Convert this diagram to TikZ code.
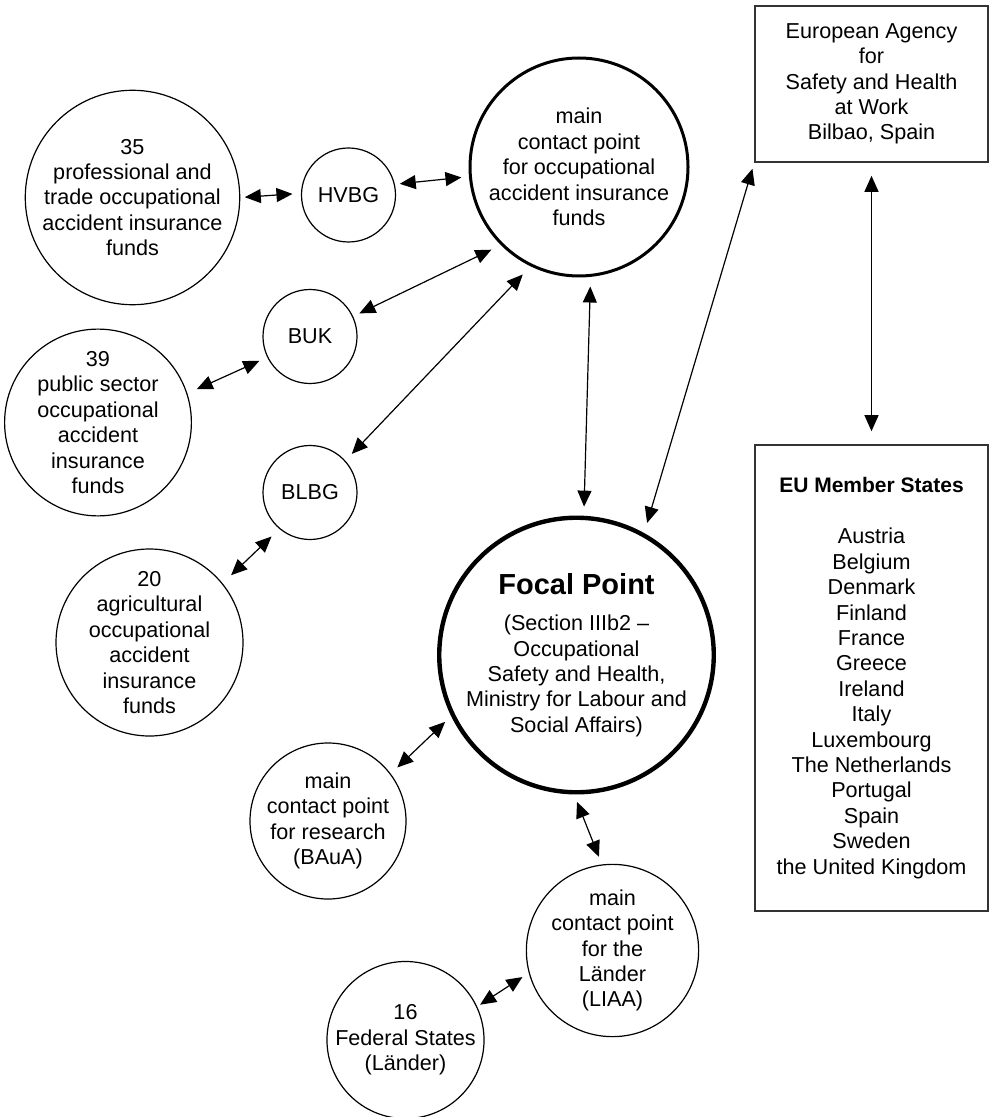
\documentclass[tikz,border=0pt]{standalone}
\usepackage{fontspec}
\setmainfont{Liberation Sans}
\usetikzlibrary{arrows.meta}
\begin{document}
\begin{tikzpicture}[x=0.5pt,y=-0.5pt,
  every node/.style={font=\fontsize{10.8}{12.7}\selectfont},
  circ/.style={draw, circle, inner sep=0pt, align=center, line width=0.6pt},
  box/.style={draw=black!80, rectangle, inner sep=0pt, align=center, line width=0.8pt},
  arr/.style={line width=0.6pt, {Triangle[length=8pt,width=7pt]}-{Triangle[length=8pt,width=7pt]}}]
\useasboundingbox (0,0) rectangle (993,1117);

\node[circ, minimum size=102pt] (c35) at (132.5,197.5) {35\\professional and\\trade occupational\\accident insurance\\funds};
\node[circ, minimum size=47pt] (hvbg) at (348.5,195) {HVBG};
\node[circ, minimum size=109pt, line width=1.5pt] (occ) at (579,167) {main\\contact point\\ for occupational\\accident insurance\\funds};
\node[circ, minimum size=47pt] (buk) at (310,336.5) {BUK};
\node[circ, minimum size=47pt] (blbg) at (310,492.5) {BLBG};
\node[circ, minimum size=93pt] (c39) at (98,422.5) {39\\public sector\\occupational\\accident\\insurance\\funds};
\node[circ, minimum size=93.5pt] (c20) at (149.5,642.5) {20\\agricultural\\occupational\\accident\\insurance\\funds};
\node[circ, minimum size=133pt, line width=2.2pt] (focal) at (576.5,655) {{\fontsize{14.5}{17}\selectfont\bfseries Focal Point}\\[5.5pt](Section IIIb2 --\\Occupational\\Safety and Health,\\Ministry for Labour and\\Social Affairs)};
\node[circ, minimum size=78pt] (bauA) at (328,821) {main\\contact point\\for research\\(BAuA)};
\node[circ, minimum size=78pt] (liaa) at (612.5,950.5) {main\\contact point\\for the\\Länder\\(LIAA)};
\node[circ, minimum size=78pt] (fed) at (405.5,1040) {16\\Federal States\\(Länder)};
\node[box, minimum width=116.5pt, minimum height=78pt] (agency) at (871.5,84) {European Agency\\for\\Safety and Health\\at Work\\Bilbao, Spain};
\node[box, minimum width=116.5pt, minimum height=233pt] (eu) at (871.5,678) {{\fontsize{10.5}{12}\selectfont\bfseries EU Member States}\\[13pt]Austria\\Belgium\\Denmark\\Finland\\France\\Greece\\Ireland\\Italy\\Luxembourg\\The Netherlands\\Portugal\\Spain\\Sweden\\the United Kingdom};

\draw[arr, shorten <=2.25pt, shorten >=4.25pt] (c35.0) -- (hvbg.178);
\draw[arr, shorten <=2.45pt, shorten >=3.75pt] (hvbg.13) -- (occ.185);
\draw[arr, shorten <=3.45pt, shorten >=5.25pt] (buk.25) -- (occ.225);
\draw[arr, shorten <=4.65pt, shorten >=5.65pt] (blbg.42) -- (occ.244);
\draw[arr, shorten <=5.1pt, shorten >=4.35pt] (c39.18) -- (buk.206);
\draw[arr, shorten <=5.85pt, shorten >=5.45pt] (c20.39) -- (blbg.230);
\draw[arr, shorten <=4.8pt, shorten >=4.55pt] (occ.276) -- (focal.87);
\draw[arr, shorten <=5.25pt, shorten >=3.1pt] (focal.61) -- (agency.south west);
\draw[arr, shorten <=6.5pt, shorten >=6.5pt] (agency.south) -- (eu.north);
\draw[arr, shorten <=4.5pt, shorten >=4.15pt] (bauA.37) -- (focal.206);
\draw[arr, shorten <=4pt, shorten >=4.05pt] (focal.269) -- (liaa.97);
\draw[arr, shorten <=3.75pt, shorten >=1.7pt] (liaa.195) -- (fed.25);
\end{tikzpicture}
\end{document}
